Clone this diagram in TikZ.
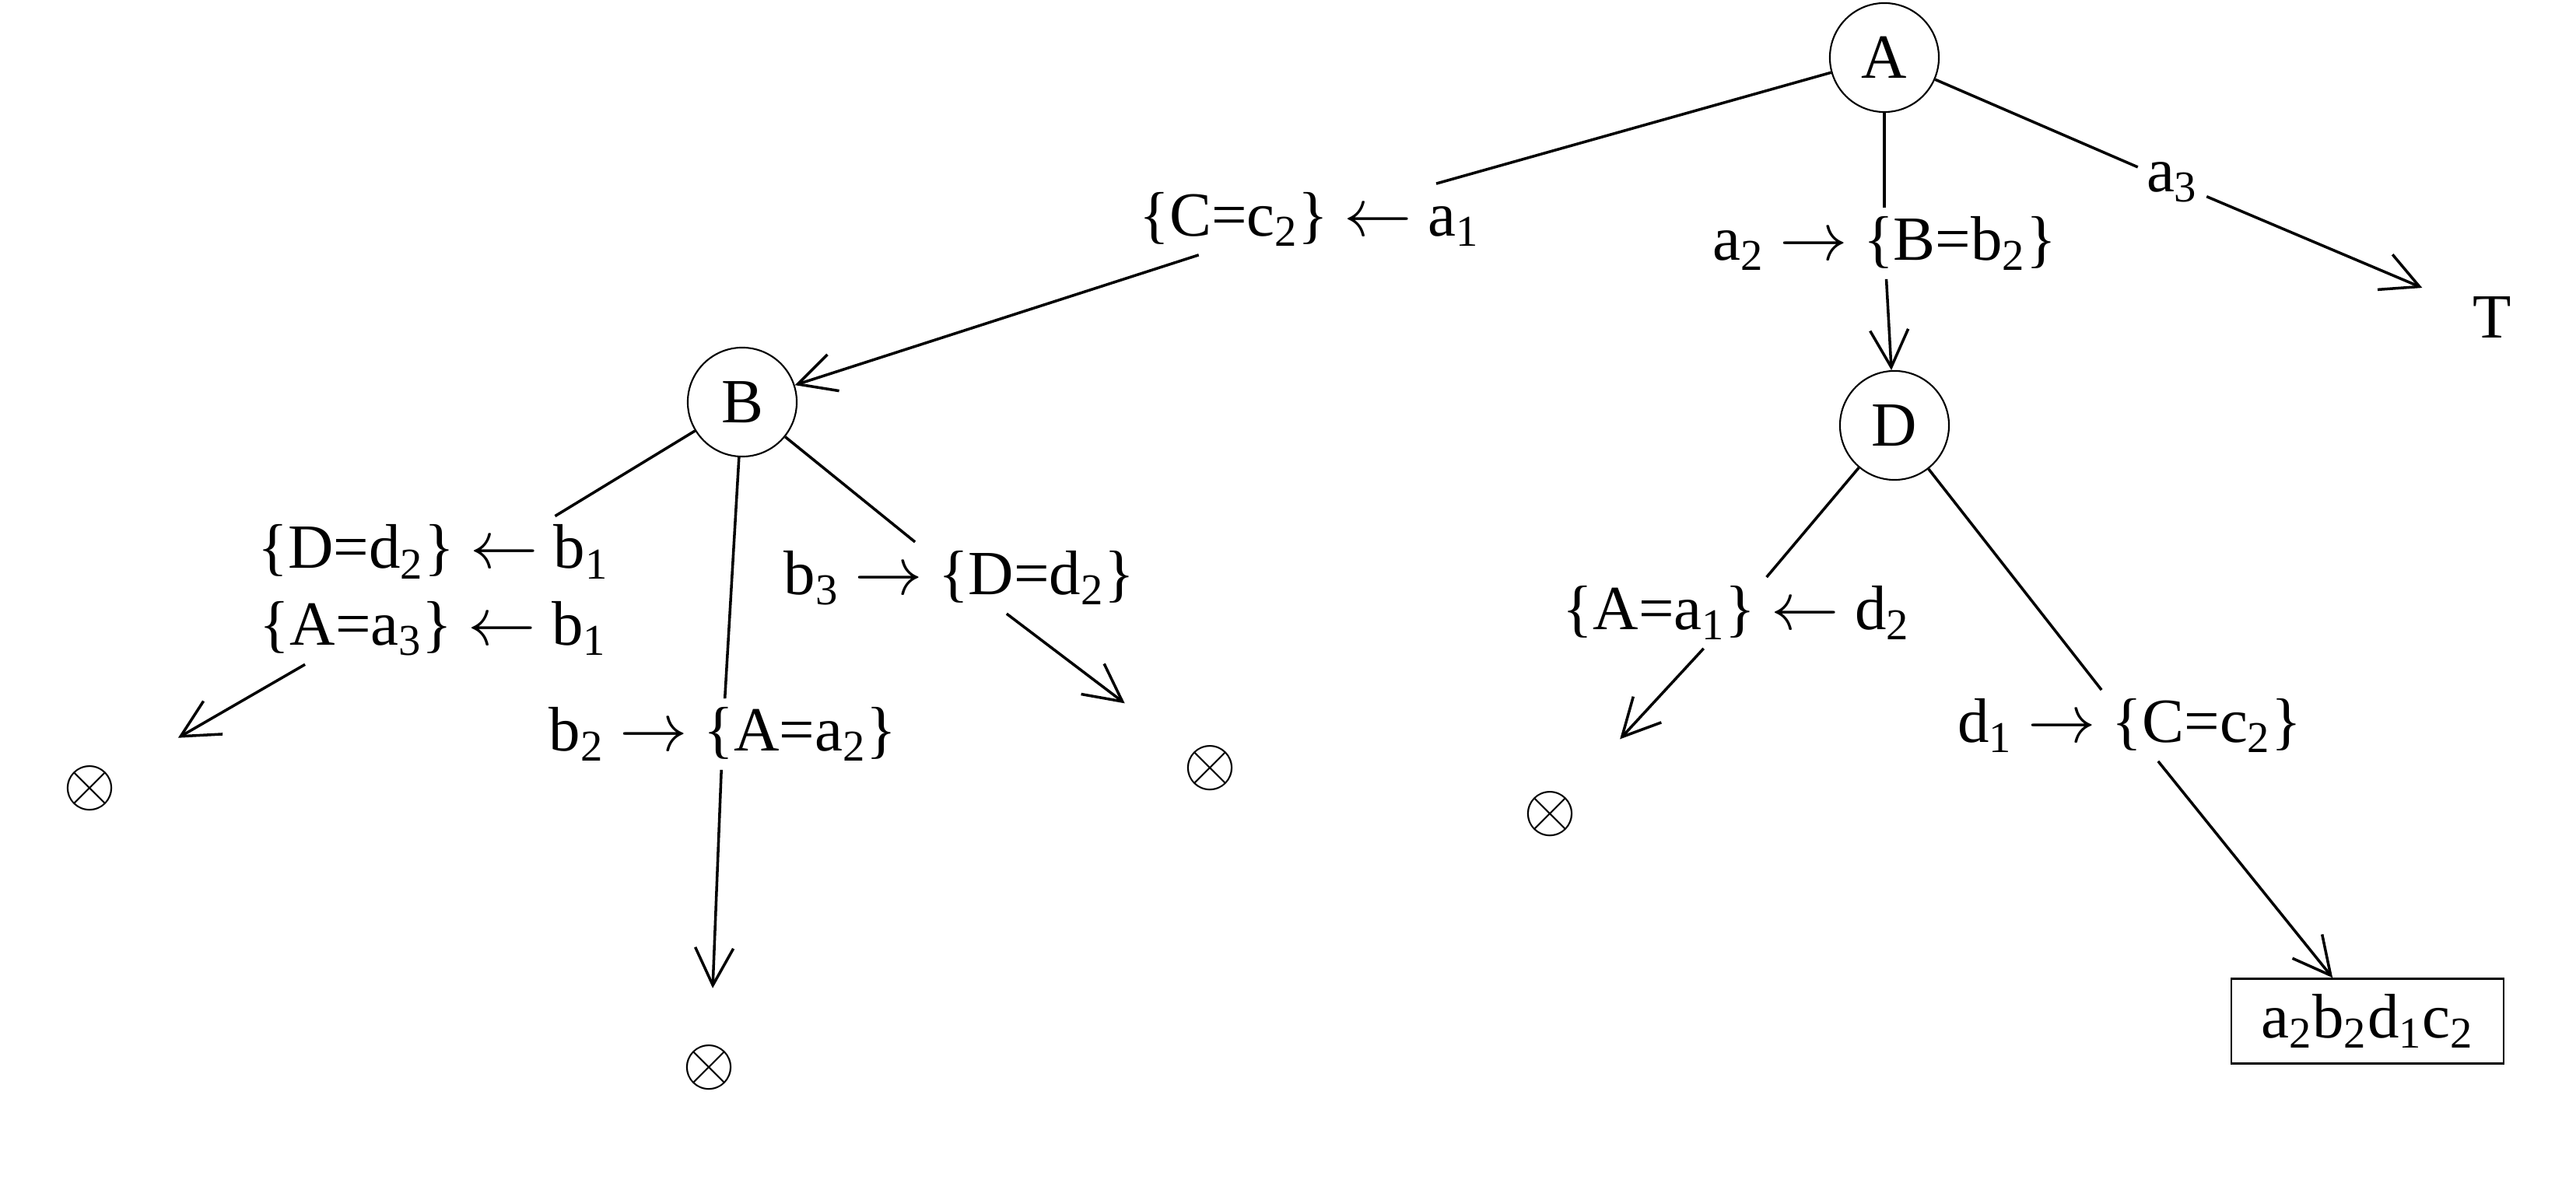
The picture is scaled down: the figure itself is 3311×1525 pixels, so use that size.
\documentclass[tikz,border=0pt]{standalone}
\usepackage{fontspec}
\setmainfont{Liberation Serif}
\usetikzlibrary{arrows.meta}
\newcommand\ix[1]{\textsubscript{#1}}

\begin{document}
\begin{tikzpicture}[
  x=0.01cm, y=-0.01cm,
  every node/.style={font=\fontsize{23}{28}\selectfont},
  var/.style={circle, draw, line width=0.6pt, minimum size=1.4cm, inner sep=0pt},
  lab/.style={inner sep=3pt, align=center},
  dead/.style={circle, inner sep=0pt, minimum size=0.64cm, font=\fontsize{27}{30}\selectfont},
  goal/.style={draw, line width=0.7pt, minimum width=3.5cm, minimum height=1.09cm},
  br/.style={line width=1pt},
  ar/.style={br, -{Straight Barb[length=4.8mm, width=4.9mm]}}
]
\useasboundingbox (0,0) rectangle (3311,1525);

\node[var] (A) at (2422,74) {A};
\node[var] (B) at (954,517) {B};
\node[var] (D) at (2435,547) {D};
\node (T) at (3203,408) {T};

\node[lab] (lAC) at (1683,282) {\{C=c\ix{2}\} $\leftarrow$ a\ix{1}};
\node[lab] (lAD) at (2422,313) {a\ix{2} $\rightarrow$ \{B=b\ix{2}\}};
\node[lab] (lAT) at (2792,234) {a\ix{3}};

\node[lab] (lB1) at (557,759)
  {\{D=d\ix{2}\} $\leftarrow$ b\ix{1}\\\{A=a\ix{3}\} $\leftarrow$ b\ix{1}};
\node[lab] (lB2) at (929,944) {b\ix{2} $\rightarrow$ \{A=a\ix{2}\}};
\node[lab] (lB3) at (1233,743) {b\ix{3} $\rightarrow$ \{D=d\ix{2}\}};
\node[lab] (lD2) at (2232,788) {\{A=a\ix{1}\} $\leftarrow$ d\ix{2}};
\node[lab] (lD1) at (2737,933) {d\ix{1} $\rightarrow$ \{C=c\ix{2}\}};

\node[dead] (x1) at (116,1014) {$\otimes$};
\node[dead] (x2) at (912,1373) {$\otimes$};
\node[dead] (x3) at (1556,988) {$\otimes$};
\node[dead] (x4) at (1993,1047) {$\otimes$};
\node[goal] (sol) at (3043,1313) {a\ix{2}b\ix{2}d\ix{1}c\ix{2}};

\draw[br] (A) -- (lAC);
\draw[ar] (lAC) -- (B);
\draw[br] (A) -- (lAD);
\draw[ar] (lAD) -- (D);
\draw[br] (A) -- (lAT);
\draw[ar, shorten >=0.57cm] (lAT) -- (T);

\draw[br] (B) -- (lB1);
\draw[ar, shorten >=0.85cm] (lB1) -- (x1);
\draw[br] (B) -- (lB2);
\draw[ar, shorten >=0.57cm] (lB2) -- (x2);
\draw[br] (B) -- (lB3);
\draw[ar, shorten >=0.93cm] (lB3) -- (x3);

\draw[br] (D) -- (lD2);
\draw[ar, shorten >=0.86cm] (lD2) -- (x4);
\draw[br] (D) -- (lD1);
\draw[ar] (lD1) -- (sol);

\end{tikzpicture}
\end{document}
